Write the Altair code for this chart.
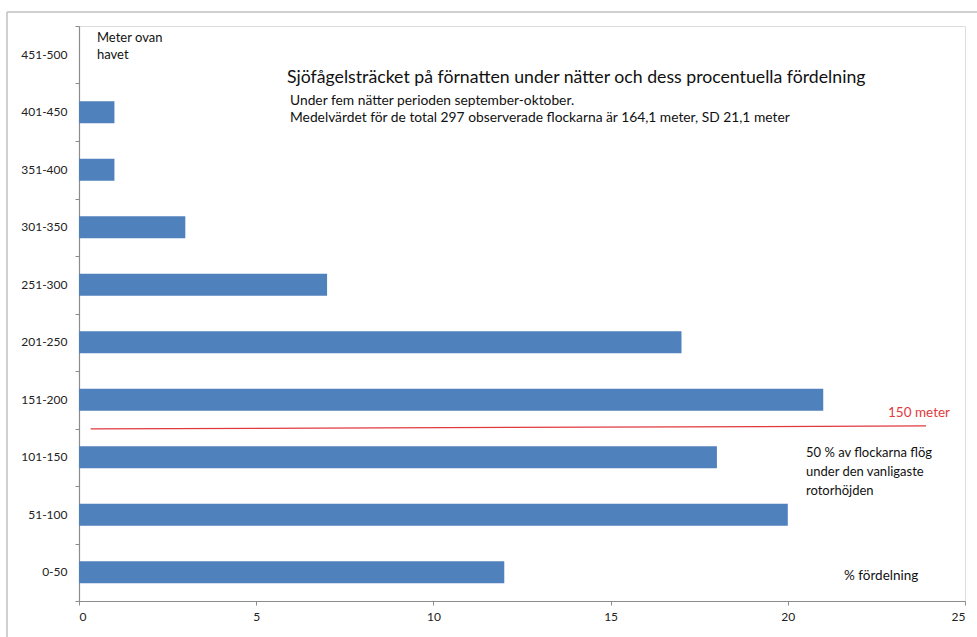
import altair as alt
import pandas as pd

# ---- data ----
cats = ["0-50", "51-100", "101-150", "151-200", "201-250",
        "251-300", "301-350", "351-400", "401-450", "451-500"]
vals = [12, 20, 18, 21, 17, 7, 3, 1, 1, 0]
meter_ticks = [0, 50, 100, 150, 200, 250, 300, 350, 400, 450, 500]
x_ticks = [0, 5, 10, 15, 20, 25]

line_x = [0.33, 23.9]
line_m = [149.6, 152.2]

title_txt = "Sjöfågelsträcket på förnatten under nätter och dess procentuella fördelning"
sub1_txt = "Under fem nätter  perioden september-oktober."
sub2_txt = "Medelvärdet för de total 297 observerade flockarna är 164,1  meter, SD 21,1 meter"
ylab_txt = ["Meter ovan", "havet"]
ref_txt = "150 meter"
note_txt = ["50 % av flockarna flög", "under den vanligaste", "rotorhöjden"]
xlab_txt = "% fördelning"

W, H = 886, 575
FONT = "Lato"
GRAY = "#8c8c8c"

df = pd.DataFrame({"cat": cats, "pct": vals})
order = list(reversed(cats))

xscale = alt.Scale(domain=[0, 25], nice=False)

bars = alt.Chart(df).mark_bar(color="#4f81bd").encode(
    x=alt.X("pct:Q", scale=xscale,
            axis=alt.Axis(values=x_ticks, title=None, grid=False, tickSize=4,
                          labelPadding=6, domainColor=GRAY, tickColor=GRAY,
                          domainWidth=1.2, labelFont=FONT, labelFontSize=12,
                          labelColor="#222222")),
    y=alt.Y("cat:N", sort=order,
            scale=alt.Scale(paddingInner=0.62, paddingOuter=0.31),
            axis=alt.Axis(title=None, ticks=False, labelPadding=12,
                          domainColor=GRAY, domainWidth=1.2, labelFont=FONT,
                          labelFontSize=12, labelColor="#222222")),
)

line_df = pd.DataFrame({"x": [line_x[0]], "x2": [line_x[1]],
                        "m": [line_m[0]], "m2": [line_m[1]]})
ref_line = alt.Chart(line_df).mark_rule(color="#e0393e", strokeWidth=1.2).encode(
    x=alt.X("x:Q", scale=xscale),
    x2="x2:Q",
    y=alt.Y("m:Q", scale=alt.Scale(domain=[0, 500], nice=False),
            axis=alt.Axis(orient="left", values=meter_ticks, labels=False,
                          title=None, grid=False, domain=False, tickSize=4,
                          tickColor=GRAY)),
    y2="m2:Q",
)


def txt(text, x, y, size=13, color="#111111", lh=17):
    return alt.Chart(pd.DataFrame({"t": [0]})).mark_text(
        text=text, align="left", baseline="middle", font=FONT,
        fontSize=size, color=color, lineHeight=lh,
    ).encode(x=alt.value(x), y=alt.value(y))


texts = [
    txt(ylab_txt, 18, 12, size=13, lh=17),
    txt(title_txt, 208, 52, size=17.7),
    txt(sub1_txt, 211, 75, size=13.8),
    txt(sub2_txt, 211, 92, size=13.8),
    txt(ref_txt, 809, 387, size=13.5, color="#e0393e"),
    txt(note_txt, 727, 427, size=13, lh=19),
    txt(xlab_txt, 765, 550, size=13.5),
]

frame_top = alt.Chart(pd.DataFrame({"t": [0]})).mark_rule(
    color="#c0c0c0", strokeWidth=1.5).encode(
    x=alt.value(-72), x2=alt.value(W + 20), y=alt.value(-14))
frame_left = alt.Chart(pd.DataFrame({"t": [0]})).mark_rule(
    color="#c0c0c0", strokeWidth=1.5).encode(
    x=alt.value(-72), y=alt.value(-14), y2=alt.value(H + 50))

chart = alt.layer(bars, ref_line, *texts, frame_top, frame_left).resolve_scale(
    y="independent"
).properties(
    width=W, height=H,
    autosize=alt.AutoSizeParams(type="none"),
    padding={"left": 79, "top": 26, "right": 12, "bottom": 36},
).configure_view(stroke=None).configure(background="white")

chart.save("out.html", embed_options={"renderer": "svg", "actions": False})
